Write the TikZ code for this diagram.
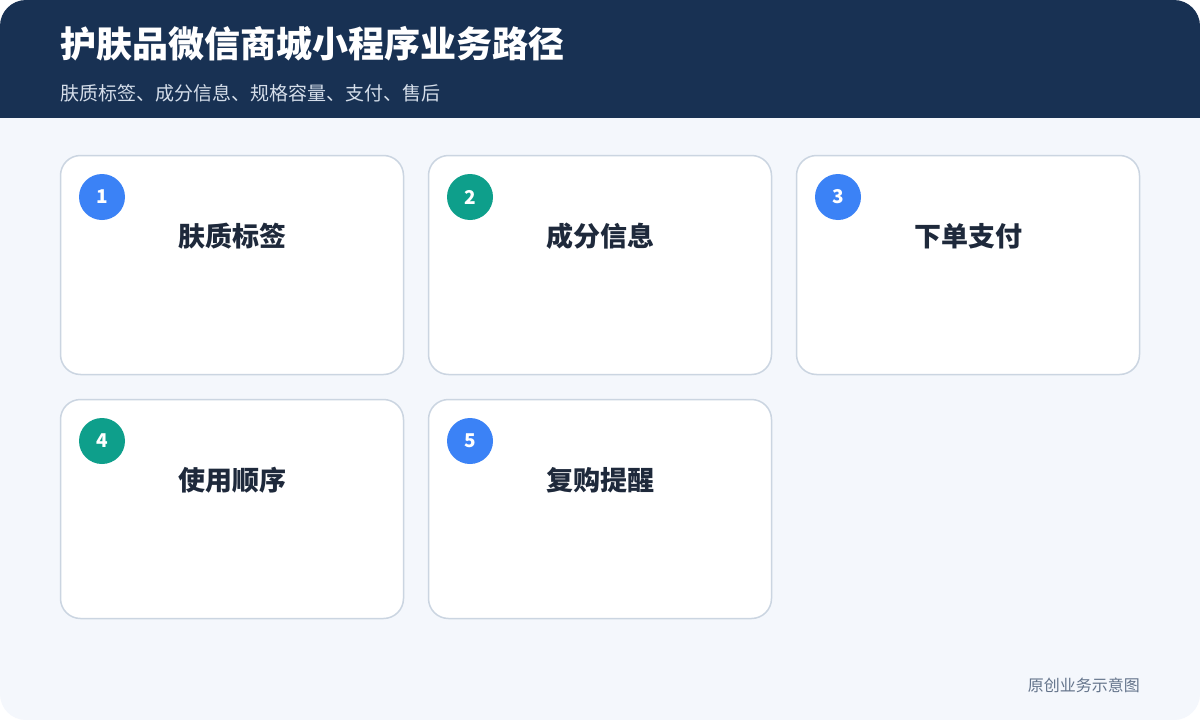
\documentclass[tikz,border=0pt]{standalone}
\usepackage{fontspec}
\setmainfont{Noto Sans CJK SC}
\usetikzlibrary{calc}
\definecolor{hdr}{HTML}{183153}
\definecolor{bgc}{HTML}{F4F7FC}
\definecolor{cardline}{HTML}{CBD5E1}
\definecolor{blu}{HTML}{3B82F6}
\definecolor{tea}{HTML}{0E9F8B}
\definecolor{ink}{HTML}{1E293B}
\definecolor{subc}{HTML}{D5DEEA}
\definecolor{foot}{HTML}{64748B}
\tikzset{
  card/.style={draw=cardline, line width=1.5pt, fill=white, rounded corners=20pt, minimum width=343pt, minimum height=219pt, inner sep=0pt},
  badge/.style={circle, minimum size=46pt, inner sep=0pt, text=white, font=\fontsize{19}{21}\selectfont\bfseries},
  cardtitle/.style={text=ink, font=\fontsize{27}{30}\selectfont\bfseries, inner sep=0pt},
}
\begin{document}
\begin{tikzpicture}[x=1pt,y=-1pt]
\useasboundingbox (0,0) rectangle (1200,720);
\fill[white] (0,0) rectangle (1200,720);
\fill[bgc, rounded corners=26pt] (0,0) rectangle (1200,720);
\begin{scope}
\clip[rounded corners=26pt] (0,0) rectangle (1200,720);
\fill[hdr] (0,0) rectangle (1200,118);
\end{scope}
\node[anchor=west, text=white, font=\fontsize{36}{40}\selectfont\bfseries, inner sep=0pt] (title) at (60,44) {护肤品微信商城小程序业务路径};
\node[anchor=west, text=subc, font=\fontsize{19}{22}\selectfont, inner sep=0pt] (subtitle) at (60,93) {肤质标签、成分信息、规格容量、支付、售后};
% cards
\foreach \n/\x/\y/\c/\t in {1/232/265/blu/肤质标签, 2/600/265/tea/成分信息, 3/968/265/blu/下单支付, 4/232/509/tea/使用顺序, 5/600/509/blu/复购提醒}{
  \node[card] (card\n) at (\x,\y) {};
  \node[badge, fill=\c] (badge\n) at ($(\x,\y)+(-130,-68)$) {\n};
  \node[cardtitle] (ct\n) at ($(\x,\y)+(0,-29)$) {\t};
}
\node[anchor=east, text=foot, font=\fontsize{16}{18}\selectfont, inner sep=0pt] (footer) at (1140,685) {原创业务示意图};
\end{tikzpicture}
\end{document}
